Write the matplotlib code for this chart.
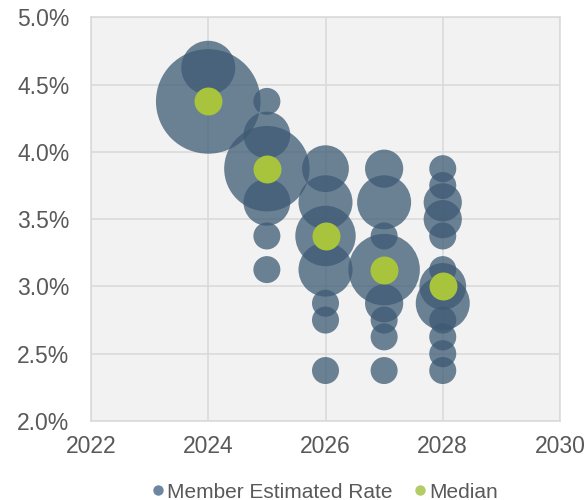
import matplotlib
matplotlib.use('Agg')
import matplotlib.pyplot as plt
from matplotlib.lines import Line2D
from matplotlib.ticker import FuncFormatter
import numpy as np

plt.rcParams['font.family'] = ['Liberation Sans', 'DejaVu Sans']

# dots per projection year: rate (%) and number of members at that rate
rates_2024 = [4.625, 4.375]
counts_2024 = [4, 15]
rates_2025 = [4.375, 4.125, 3.875, 3.625, 3.375, 3.125]
counts_2025 = [1, 3, 10, 3, 1, 1]
rates_2026 = [3.875, 3.625, 3.375, 3.125, 2.875, 2.75, 2.375]
counts_2026 = [3, 4, 5, 4, 1, 1, 1]
rates_2027 = [3.875, 3.625, 3.375, 3.125, 2.875, 2.75, 2.625, 2.375]
counts_2027 = [2, 4, 1, 7, 2, 1, 1, 1]
rates_2028 = [3.875, 3.75, 3.625, 3.5, 3.375, 3.125, 3.0, 2.875, 2.75, 2.625, 2.5, 2.375]
counts_2028 = [1, 1, 2, 2, 1, 1, 3, 4, 1, 1, 1, 1]

median_years = [2024, 2025, 2026, 2027, 2028]
median_rates = [4.375, 3.875, 3.375, 3.125, 3.0]

x_ticks = [2022, 2024, 2026, 2028, 2030]
y_ticks = [2.0, 2.5, 3.0, 3.5, 4.0, 4.5, 5.0]

BLUE = '#3d5a73'
GREEN = '#a8c43c'
TEXT = '#595959'
GRID = '#d9d9d9'

cols = {
    2024: (rates_2024, counts_2024),
    2025: (rates_2025, counts_2025),
    2026: (rates_2026, counts_2026),
    2027: (rates_2027, counts_2027),
    2028: (rates_2028, counts_2028),
}
xs, ys, ns = [], [], []
for yr, (r, c) in cols.items():
    xs += [yr] * len(r)
    ys += r
    ns += c
ns = np.array(ns)

fig = plt.figure(figsize=(5.85, 5.0), dpi=100)
ax = fig.add_axes([91 / 585, 1 - 421 / 500, (560 - 91) / 585, (421 - 17.3) / 500])
ax.set_facecolor('#f2f2f2')

ax.scatter(xs, ys, s=378 * ns, color=BLUE, alpha=0.75, linewidths=0, zorder=2)
ax.scatter(median_years, median_rates, s=406, color=GREEN, linewidths=0, zorder=3)

ax.set_xlim(2022, 2030)
ax.set_ylim(2.0, 5.0)
ax.set_xticks(x_ticks)
ax.set_yticks(y_ticks)
ax.yaxis.set_major_formatter(FuncFormatter(lambda v, p: f'{v:.1f}%'))
ax.grid(True, color=GRID, linewidth=1.1, zorder=0)
ax.set_axisbelow(True)
for s in ax.spines.values():
    s.set_color(GRID)
    s.set_linewidth(1.1)
ax.tick_params(length=0, labelsize=16.5, labelcolor=TEXT)
ax.tick_params(axis='x', pad=10)
ax.tick_params(axis='y', pad=15.5)

handles = [
    Line2D([], [], marker='o', ls='', markersize=7.5, markerfacecolor='#6d87a0', markeredgewidth=0),
    Line2D([], [], marker='o', ls='', markersize=7.5, markerfacecolor='#b3cc66', markeredgewidth=0),
]
# legend sits centred under the plot area, not the figure
fig.legend(handles, ['Member Estimated Rate', 'Median'], loc='center',
           bbox_to_anchor=(0.555, 8 / 500), ncol=2, frameon=False, fontsize=15,
           labelcolor=TEXT, handlelength=0.6, handletextpad=0.15, columnspacing=1.0,
           borderpad=0, borderaxespad=0)

fig.savefig('out.png', dpi=100)
